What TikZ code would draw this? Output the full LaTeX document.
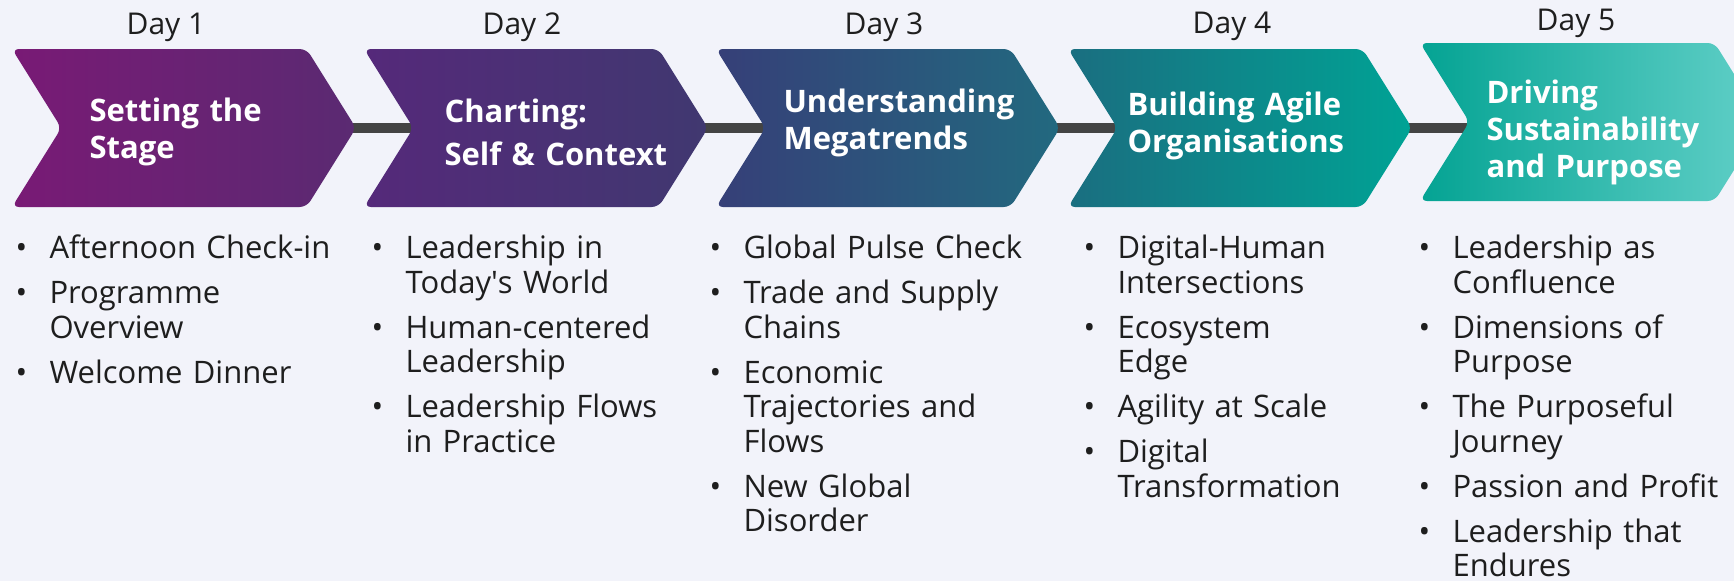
\documentclass[tikz,border=0pt]{standalone}
\usepackage{fontspec}
\setmainfont{Open Sans}
\usetikzlibrary{shapes.symbols}

\definecolor{pagebg}{HTML}{F2F3FA}
\definecolor{barcol}{HTML}{444444}
\definecolor{inkcol}{HTML}{1E1E1E}
\definecolor{dayoneL}{HTML}{791A75}
\definecolor{dayoneR}{HTML}{5A2A72}
\definecolor{daytwoL}{HTML}{55297A}
\definecolor{daytwoR}{HTML}{403870}
\definecolor{daythreeL}{HTML}{363F78}
\definecolor{daythreeR}{HTML}{22697F}
\definecolor{dayfourL}{HTML}{1A6E80}
\definecolor{dayfourR}{HTML}{00A395}
\definecolor{dayfiveL}{HTML}{04A393}
\definecolor{dayfiveR}{HTML}{62D0C8}

\pgfdeclarelayer{paper}
\pgfdeclarelayer{bars}
\pgfsetlayers{paper,bars,main}

% one bullet of a day's list
\newcommand{\dayitem}[1]{\par\hangindent=34pt\hangafter=1\noindent
  \makebox[34pt][l]{\textbullet}#1\par\vspace{10.5pt}}

\begin{document}
\begin{tikzpicture}[x=1pt,y=-1pt,node distance=352pt,
  chevron/.style={signal,signal from=west,signal to=east,signal pointer angle=116,
    minimum width=344pt,minimum height=158pt,inner sep=0pt,rounded corners=7pt}]

% Define block styles
\tikzstyle{title} = [text=white, text width=280pt, align=left, anchor=base west,
    font=\fontsize{31}{37}\selectfont\bfseries]
\tikzstyle{day} = [text=inkcol, anchor=base, font=\fontsize{30}{36}\selectfont]
\tikzstyle{topics} = [text=inkcol, text width=320pt, align=left, anchor=base west,
    font=\fontsize{31}{34.5}\selectfont]
\tikzstyle{bar} = [draw=barcol, line width=9.5pt]

\begin{pgfonlayer}{paper}
\fill[pagebg] (0,0) rectangle (1734,581);
\end{pgfonlayer}
\useasboundingbox (0,0) rectangle (1734,581);

\node[chevron, left color=dayoneL, right color=dayoneR]     (c1) at (184,128) {};
\node[chevron, left color=daytwoL, right color=daytwoR]     (c2) [right of=c1] {};
\node[chevron, left color=daythreeL, right color=daythreeR] (c3) [right of=c2] {};
\node[chevron, left color=dayfourL, right color=dayfourR]   (c4) [right of=c3] {};
\node[chevron, left color=dayfiveL, right color=dayfiveR]   (c5) [right of=c4, yshift=6pt] {};

\node[title] (t1) at (86,121)   {Setting the\\Stage};
\node[title] (t2) at (441,122)  {Charting:\\[6pt]Self \& Context};
\node[title] (t3) at (780,112)  {Understanding\\Megatrends};
\node[title] (t4) at (1124,115) {Building Agile\\Organisations};
\node[title] (t5) at (1483,103) {Driving\\Sustainability\\and Purpose};

\node[day] (d1) at (166,34)  {Day 1};
\node[day] (d2) at (522,34)  {Day 2};
\node[day] (d3) at (884,34)  {Day 3};
\node[day] (d4) at (1232,33) {Day 4};
\node[day] (d5) at (1576,30) {Day 5};

\node[topics] (l1) at (12,224) {\dayitem{Afternoon Check-in}
    \dayitem{Programme\newline Overview}\dayitem{Welcome Dinner}};
\node[topics] (l2) at (368,224) {\dayitem{Leadership in\newline Today\textquotesingle s World}
    \dayitem{Human-centered\newline Leadership}
    \dayitem{Leadership Flows\newline in Practice}};
\node[topics] (l3) at (706,224) {\dayitem{Global Pulse Check}
    \dayitem{Trade and Supply\newline Chains}
    \dayitem{Economic\newline Trajectories and\newline Flows}
    \dayitem{New Global\newline Disorder}};
\node[topics] (l4) at (1080,224) {\dayitem{Digital-Human\newline Intersections}
    \dayitem{Ecosystem\newline Edge}\dayitem{Agility at Scale}
    \dayitem{Digital\newline Transformation}};
\node[topics] (l5) at (1415,224) {\dayitem{Leadership as\newline Confluence}
    \dayitem{Dimensions of\newline Purpose}
    \dayitem{The Purposeful\newline Journey}\dayitem{Passion and Profit}
    \dayitem{Leadership that\newline Endures}};

\begin{pgfonlayer}{bars}
\path[bar] (c1.center) -- (c1.center -| c2.center)
           (c2.center) -- (c2.center -| c3.center)
           (c3.center) -- (c3.center -| c4.center)
           (c4.center) -- (c4.center -| c5.center);
\end{pgfonlayer}

\end{tikzpicture}
\end{document}
